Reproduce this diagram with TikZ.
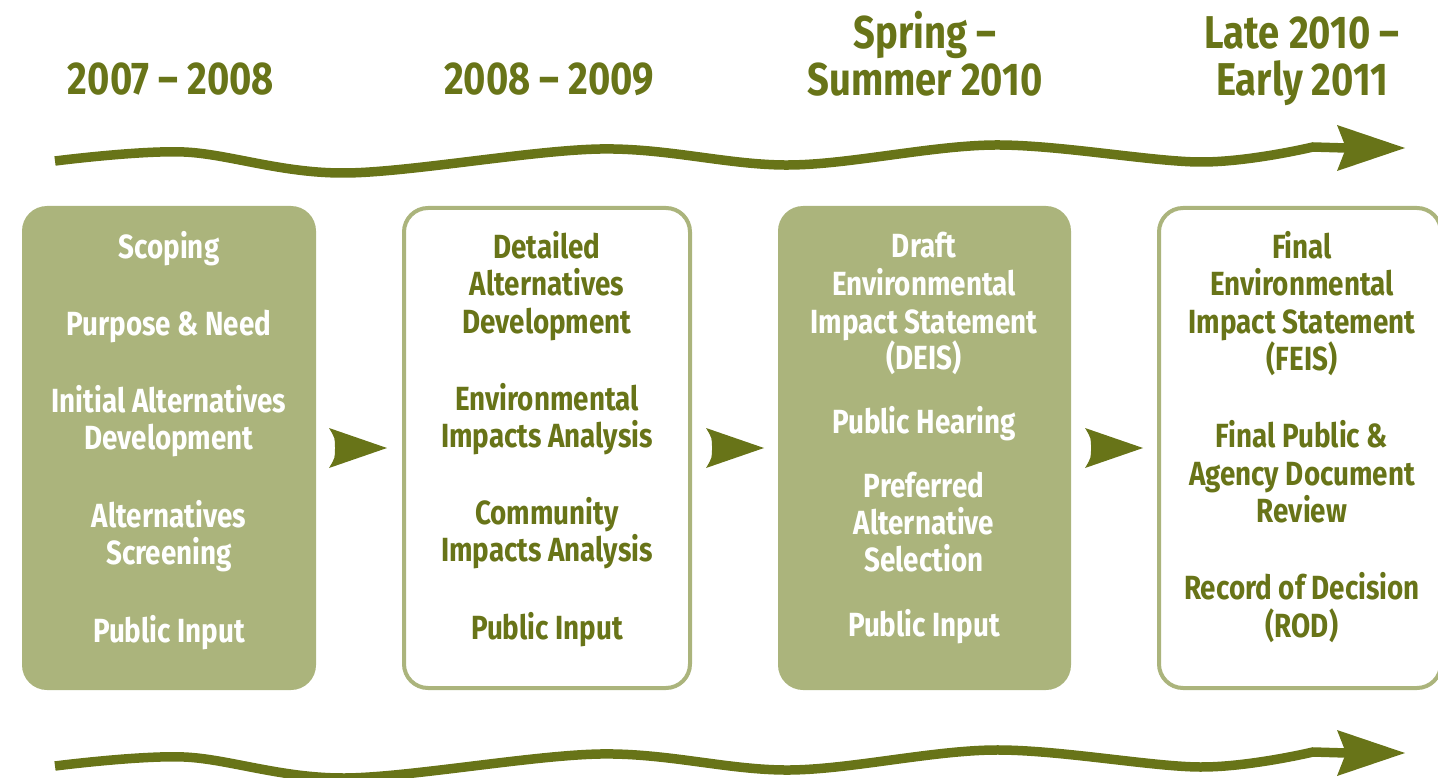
\documentclass[tikz,border=0pt]{standalone}
\usepackage{fontspec}
\setmainfont{Fira Sans}[FakeStretch=0.83]
\definecolor{dk}{RGB}{104,116,24}
\definecolor{lt}{RGB}{171,180,124}
\begin{document}
\begin{tikzpicture}[x=1pt,y=-1pt,
  hdr/.style={text=dk, font=\fontsize{46}{47}\selectfont\bfseries, anchor=base, inner sep=0},
  wt/.style={text=white, font=\fontsize{33.5}{37.5}\selectfont\bfseries, anchor=base, inner sep=0},
  gt/.style={wt, text=dk},
  fbox/.style={fill=lt, rounded corners=25},
  obox/.style={draw=lt, line width=4, fill=white, rounded corners=24},
  wave/.style={draw=dk, line width=9.5},
  chev/.style={fill=dk}]
\useasboundingbox (0,0) rectangle (1438,778);

% headers
\node[hdr] (h1) at (171,95) {2007 -- 2008};
\node[hdr] (h2) at (549,95) {2008 -- 2009};
\node[hdr] (h3a) at (925,49) {Spring --};
\node[hdr] (h3b) at (925,96) {Summer 2010};
\node[hdr] (h4a) at (1302,49) {Late 2010 --};
\node[hdr] (h4b) at (1302,96) {Early 2011};

% waves
\foreach \dy [count=\k] in {0,605}{
  \draw[wave] plot[smooth, tension=0.55] coordinates {(55,161+\dy) (184,152+\dy) (345,173+\dy) (600,149+\dy) (790,165+\dy) (995,145+\dy) (1200,162+\dy) (1313,147+\dy)} -- (1346,148+\dy);
  \fill[dk] (1405,148+\dy) -- (1337,125+\dy) .. controls (1342,136+\dy) .. (1346,148+\dy) .. controls (1342,160+\dy) .. (1337,171+\dy) -- cycle;
}

% boxes
\path[fbox] (22,206) rectangle (316,690);
\path[obox] (404,208) rectangle (690,688);
\path[fbox] (778,206) rectangle (1071,690);
\path[obox] (1159,208) rectangle (1441,688);

% chevrons
\foreach \cx in {329,706,1085}{
  \fill[chev] (\cx+58,448) -- (\cx,428) .. controls (\cx+6,438) .. (\cx+6,448) .. controls (\cx+6,458) .. (\cx,468) -- cycle;
}

% box 1
\foreach \t/\y [count=\i] in {Scoping/247, Purpose \& Need/324, Initial Alternatives/401, Development/438, Alternatives/516, Screening/553, Public Input/631}
  \node[wt] (a\i) at (169,\y+11.5) {\t};
% box 2
\foreach \t/\y [count=\i] in {Detailed/247, Alternatives/284, Development/322, Environmental/399, Impacts Analysis/436, Community/513, Impacts Analysis/550, Public Input/628}
  \node[gt] (b\i) at (547,\y+11.5) {\t};
% box 3
\foreach \t/\y [count=\i] in {Draft/246, Environmental/284, Impact Statement/322, (DEIS)/358, Public Hearing/422, Preferred/486, Alternative/523, Selection/560, Public Input/625}
  \node[wt] (c\i) at (924,\y+11.5) {\t};
% box 4
\foreach \t/\y [count=\i] in {Final/247, Environmental/284, Impact Statement/322, (FEIS)/359, Final Public \&/436, Agency Document/474, Review/511, Record of Decision/588, (ROD)/626}
  \node[gt] (d\i) at (1302,\y+11.5) {\t};
\end{tikzpicture}
\end{document}
